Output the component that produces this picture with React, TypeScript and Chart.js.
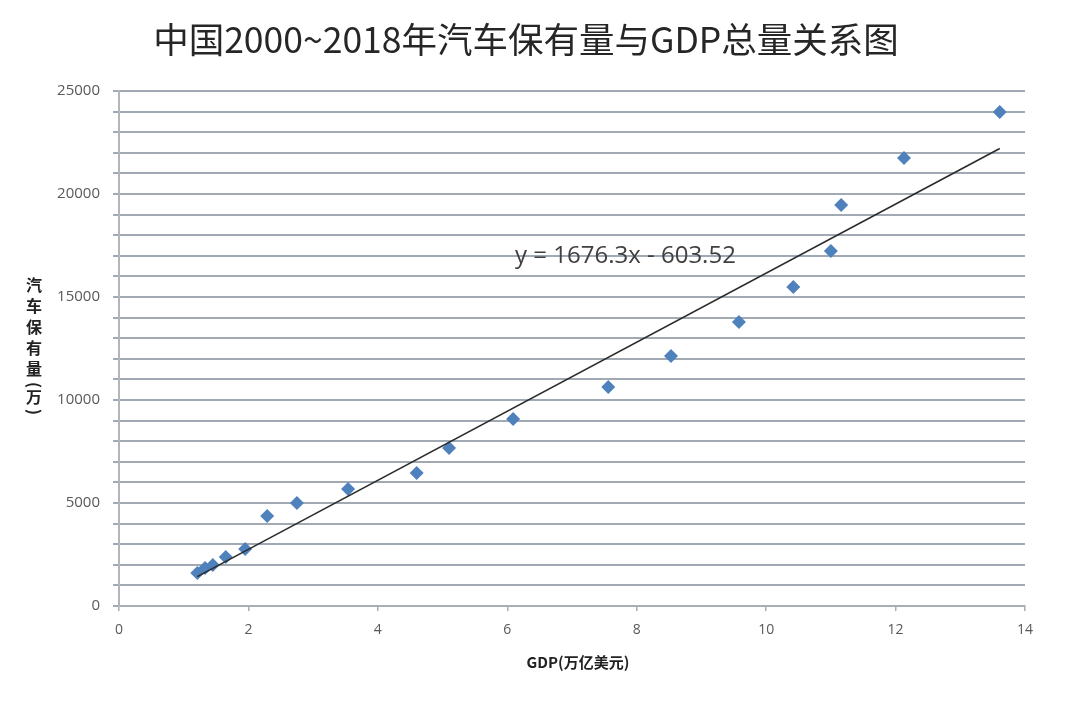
import React, { useEffect, useRef } from "react";
import { Chart, registerables } from "chart.js";

Chart.register(...registerables);

const TITLE = "中国2000~2018年汽车保有量与GDP总量关系图";
const X_TITLE = "GDP(万亿美元)";
const Y_TITLE_CHARS = ["汽", "车", "保", "有", "量", "(", "万", ")"];
const EQUATION = "y = 1676.3x - 603.52";

const years = [2000, 2001, 2002, 2003, 2004, 2005, 2006, 2007, 2008, 2009, 2010, 2011, 2012, 2013, 2014, 2015, 2016, 2017, 2018];
const gdp = [1.21, 1.33, 1.45, 1.65, 1.95, 2.29, 2.75, 3.54, 4.6, 5.1, 6.09, 7.56, 8.53, 9.58, 10.42, 11.0, 11.16, 12.13, 13.61];
const vehicles = [1600, 1840, 1990, 2380, 2770, 4370, 5000, 5680, 6460, 7670, 9080, 10630, 12140, 13790, 15490, 17230, 19470, 21750, 23980];

const TREND_SLOPE = 1676.3;
const TREND_INTERCEPT = -603.52;

const Y_MAX = 25000;
const Y_STEP = 1000;
const Y_LABEL_STEP = 5000;
const X_MAX = 14;
const X_STEP = 2;

export default function App() {
  const canvasRef = useRef<HTMLCanvasElement | null>(null);

  useEffect(() => {
    document.body.style.margin = "0";
    const canvas = canvasRef.current;
    if (!canvas) return;

    const xMin = Math.min(...gdp);
    const xMax = Math.max(...gdp);
    const trend = [
      { x: xMin, y: TREND_SLOPE * xMin + TREND_INTERCEPT },
      { x: xMax, y: TREND_SLOPE * xMax + TREND_INTERCEPT },
    ];

    const textPlugin = {
      id: "texts",
      afterDraw(chart: any) {
        const ctx = chart.ctx as CanvasRenderingContext2D;
        const xs = chart.scales.x;
        const ys = chart.scales.y;
        ctx.save();
        // Title
        ctx.fillStyle = "#262626";
        ctx.font = '35.5px "Noto Sans CJK SC", "Noto Sans", sans-serif';
        ctx.textAlign = "center";
        ctx.textBaseline = "middle";
        ctx.fillText(TITLE, 526, 40);

        // Equation
        ctx.fillStyle = "#404040";
        ctx.font = '24px "Open Sans", "Noto Sans", sans-serif';
        ctx.textAlign = "left";
        ctx.fillText(EQUATION, xs.getPixelForValue(6.12), ys.getPixelForValue(17000));

        // X title
        ctx.fillStyle = "#222222";
        ctx.font = 'bold 15px "Noto Sans CJK SC", "Noto Sans", sans-serif';
        ctx.textAlign = "center";
        ctx.fillText(X_TITLE, 578, 662);

        // Y title (stacked)
        ctx.font = 'bold 16px "Noto Sans CJK SC", "Noto Sans", sans-serif';
        let y = 285;
        for (const ch of Y_TITLE_CHARS) {
          if (ch === "(" || ch === ")") {
            y += ch === "(" ? -5 : -6;
            ctx.save();
            ctx.translate(34, y);
            ctx.rotate(Math.PI / 2);
            ctx.fillText(ch, 0, 0);
            ctx.restore();
            y += ch === "(" ? 12 : 10;
          } else {
            ctx.fillText(ch, 34, y);
            y += 21;
          }
        }
        ctx.restore();
      },
    };

    const chart = new Chart(canvas, {
      type: "scatter",
      data: {
        datasets: [
          {
            label: "汽车保有量",
            data: gdp.map((g, i) => ({ x: g, y: vehicles[i] })),
            pointStyle: "rectRot",
            pointRadius: 7,
            backgroundColor: "#4f81bd",
            borderColor: "#4f81bd",
            borderWidth: 0,
            order: 1,
          },
          {
            type: "line",
            label: "趋势线",
            data: trend,
            borderColor: "#2b2b2b",
            borderWidth: 1.6,
            pointRadius: 0,
            fill: false,
            order: 0,
          } as any,
        ],
      },
      options: {
        responsive: false,
        animation: false,
        layout: { padding: { left: 0, top: 91, right: 55, bottom: 0 } },
        plugins: {
          legend: { display: false },
          title: { display: false },
          tooltip: { enabled: false },
        },
        scales: {
          x: {
            type: "linear",
            min: 0,
            max: X_MAX,
            ticks: {
              stepSize: X_STEP,
              color: "#595959",
              font: { family: '"Open Sans", "Noto Sans", sans-serif', size: 14 },
              padding: 11,
            },
            grid: {
              drawOnChartArea: false,
              drawTicks: true,
              tickLength: 5,
              color: "#a6aeb6",
              lineWidth: 1.5,
            },
            border: { display: true, color: "#a6aeb6", width: 2 },
            afterFit(scale: any) {
              scale.height = 99;
            },
          },
          y: {
            type: "linear",
            min: 0,
            max: Y_MAX,
            ticks: {
              stepSize: Y_STEP,
              autoSkip: false,
              color: "#595959",
              font: { family: '"Open Sans", "Noto Sans", sans-serif', size: 15 },
              padding: 13,
              callback: (v: any) => (Number(v) % Y_LABEL_STEP === 0 ? String(v) : ""),
            },
            grid: {
              drawTicks: true,
              tickLength: 6,
              color: "#a1a9b2",
              lineWidth: 2,
            },
            border: { display: true, color: "#b0b6bc", width: 2 },
            afterFit(scale: any) {
              scale.width = 119;
            },
          },
        },
      },
      plugins: [textPlugin],
    });

    return () => chart.destroy();
  }, []);

  return (
    <div style={{ position: "absolute", left: 0, top: 0, width: 1080, height: 705, background: "#ffffff" }}>
      <canvas ref={canvasRef} width={1080} height={705} style={{ display: "block" }} />
    </div>
  );
}
